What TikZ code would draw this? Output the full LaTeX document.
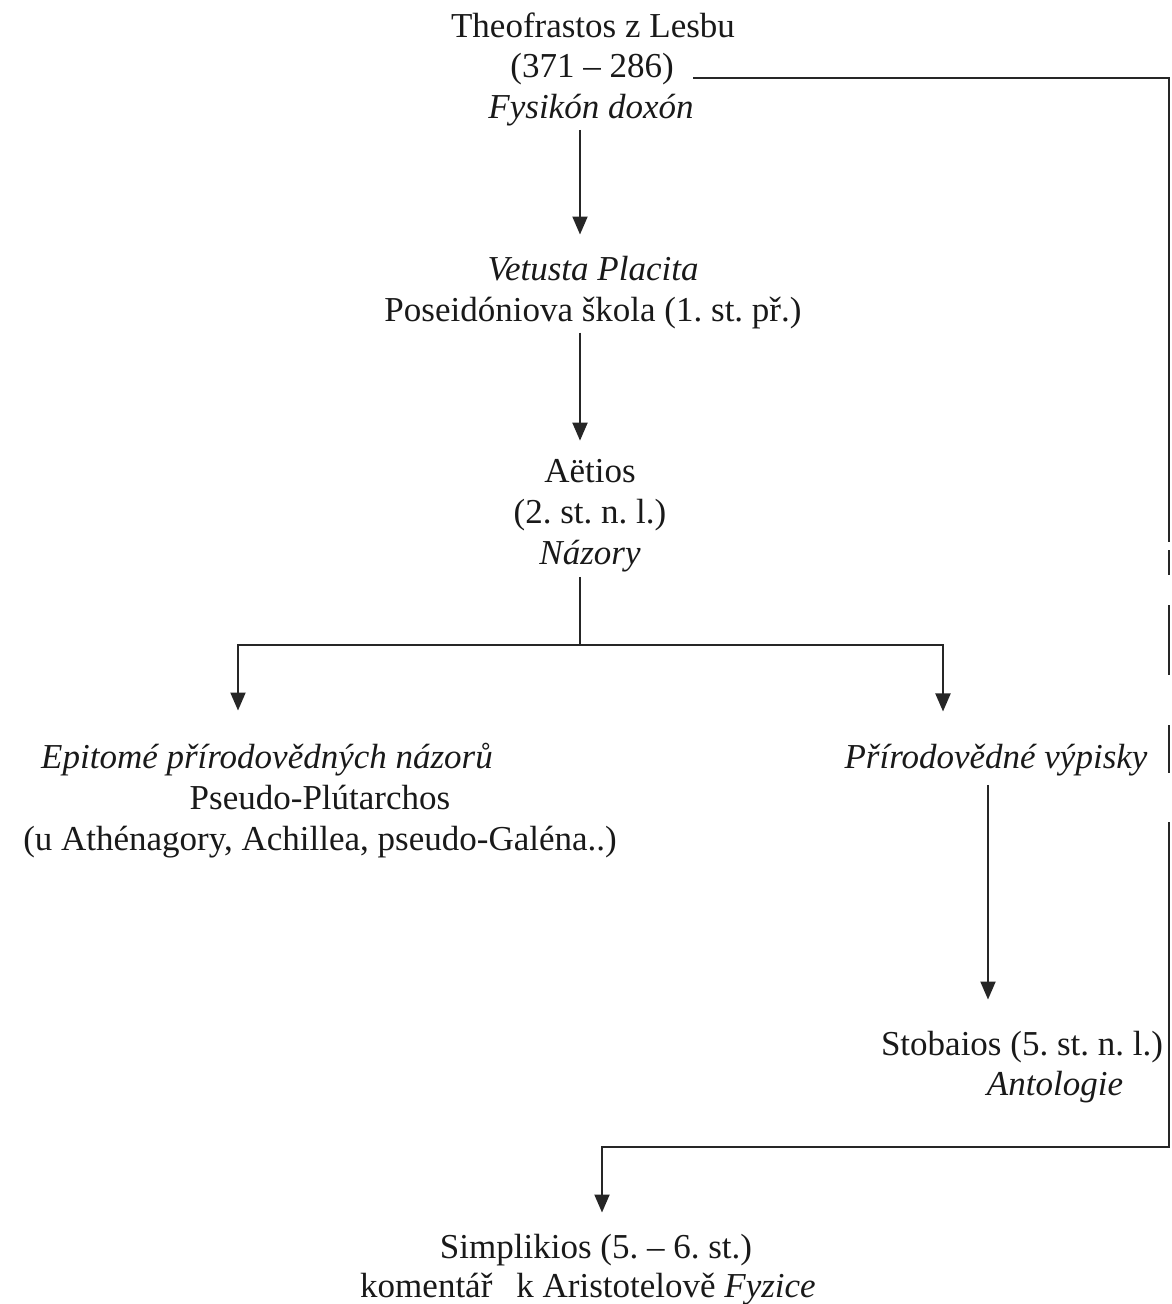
\documentclass[tikz,border=0pt]{standalone}
\usepackage{fontspec}
\setmainfont{Liberation Serif}
\usetikzlibrary{arrows.meta}
\frenchspacing
\begin{document}
\begin{tikzpicture}[x=1pt,y=-1pt,
  txt/.style={font=\frenchspacing\fontsize{35}{40}\selectfont, inner sep=0pt, anchor=base, text=black!90},
  conn/.style={line width=2pt, draw=black!85},
  arr/.style={conn, -{Triangle[width=15pt,length=18pt]}}]
\useasboundingbox (0,0) rectangle (1172,1304);
% columns
\coordinate (colA) at (580,0);
\coordinate (colR) at (988,0);
% texts
\node[txt] (theoA) at (593,37) {Theofrastos z Lesbu};
\node[txt] (theoB) at (592,77) {(371 -- 286)};
\node[txt] (theoC) at (591,118) {\itshape Fysikón doxón};
\node[txt] (vetA) at (593,280) {\itshape Vetusta Placita};
\node[txt] (vetB) at (593,321) {Poseidóniova škola (1. st. př.)};
\node[txt] (aetA) at (590,482) {Aëtios};
\node[txt] (aetB) at (590,523) {(2. st. n. l.)};
\node[txt] (aetC) at (590,564) {\itshape Názory};
\node[txt] (epiA) at (267,768) {\itshape Epitomé přírodovědných názorů};
\node[txt] (epiB) at (320,809) {Pseudo-Plútarchos};
\node[txt] (epiC) at (320,850) {(u Athénagory, Achillea, pseudo-Galéna..)};
\node[txt] (prirA) at (996,768) {\itshape Přírodovědné výpisky};
\node[txt] (stobA) at (1022,1055) {Stobaios (5. st. n. l.)};
\node[txt] (stobB) at (1055,1095) {\itshape Antologie};
\node[txt] (simA) at (596,1258) {Simplikios (5. -- 6. st.)};
\node[txt] (simB) at (588,1297) {komentář\hspace{24pt}k Aristotelově \textit{Fyzice}};
% routing points
\coordinate (tstart) at (693,78);
\coordinate (tr1) at (1169,78);
\coordinate (tr2) at (1169,1147);
\coordinate (tr3) at (602,1147);
\coordinate (forkc) at (580,645);
\coordinate (forkL) at (238,645);
\coordinate (forkR) at (943,645);
% connectors
\draw[arr, shorten <=4pt, shorten >=21pt] (theoC.south -| colA) -- (vetA.north -| colA);
\draw[arr, shorten <=4pt, shorten >=18pt] (vetB.south -| colA) -- (aetA.north -| colA);
\draw[conn, shorten <=5pt] (aetC.south -| colA) -- (forkc);
\draw[arr, shorten >=32pt] (forkc) -- (forkL) -- (epiA.north -| forkL);
\draw[arr, shorten >=32pt] (forkc) -- (forkR) -- (prirA.north -| forkR);
\draw[arr, shorten <=9pt, shorten >=31pt] (prirA.south -| colR) -- (stobA.north -| colR);
\draw[arr, shorten >=21pt, dash pattern=on 940pt off 8pt on 25pt off 30pt on 70pt off 50pt on 48pt off 49pt on 3000pt]
  (tstart) -- (tr1) -- (tr2) -- (tr3) -- (simA.north -| tr3);
\end{tikzpicture}
\end{document}
